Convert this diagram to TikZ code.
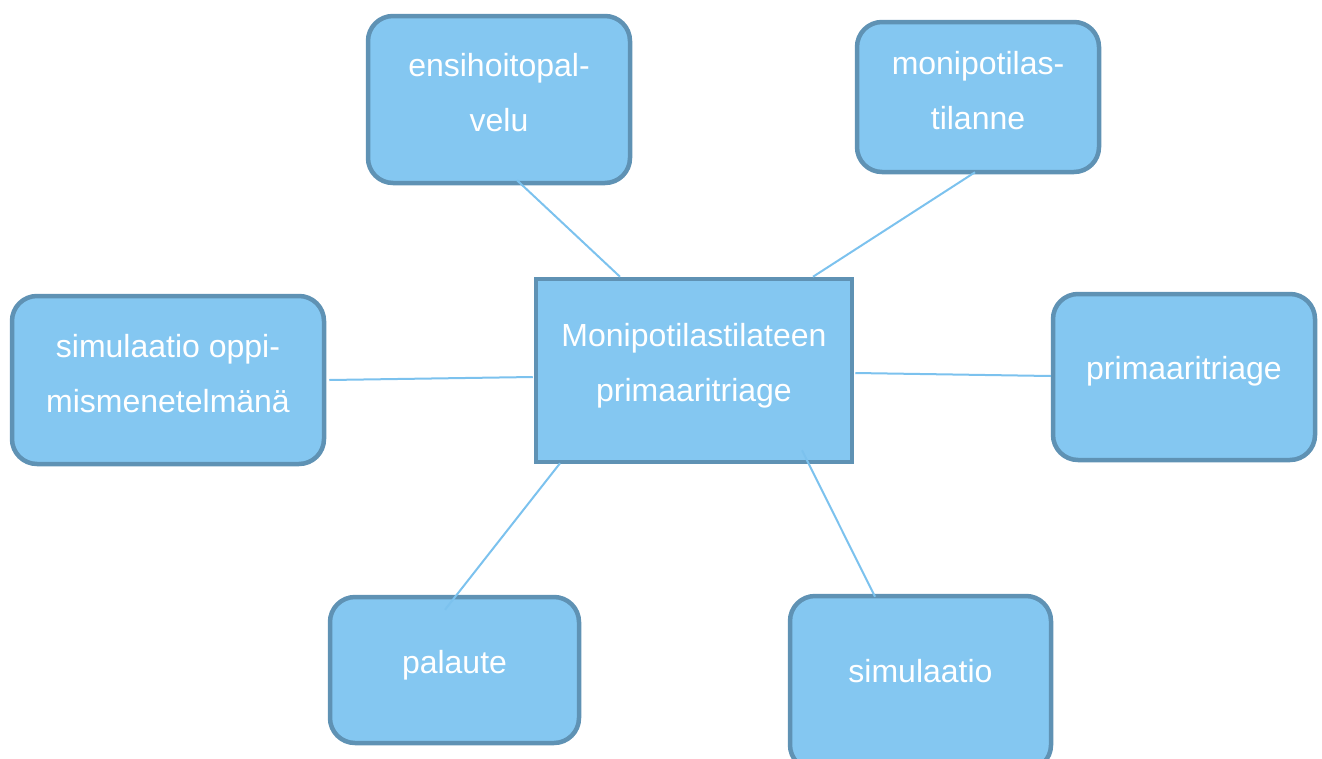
\documentclass[tikz,border=0pt]{standalone}
\usepackage{fontspec}
\setmainfont{Liberation Sans}
\usetikzlibrary{calc}
\definecolor{boxfill}{HTML}{84C7F1}
\definecolor{boxline}{HTML}{5F92B4}
\definecolor{linkcol}{HTML}{7CC2EE}
\tikzset{
  rbox/.style={draw=boxline, fill=boxfill, line width=4.5pt, rounded corners=25pt, inner sep=0pt},
  cbox/.style={draw=boxline, fill=boxfill, line width=4.5pt, inner sep=0pt},
  txt/.style={text=white, align=center, font=\fontsize{32}{55}\selectfont, inner sep=0pt},
  link/.style={draw=linkcol, line width=2pt}
}
\begin{document}
\begin{tikzpicture}[x=1pt,y=-1pt]
\useasboundingbox (0,0) rectangle (1322,758);
\clip (0,0) rectangle (1322,758);
\node[cbox, minimum width=316pt, minimum height=183pt, label={[txt,yshift=5pt]center:Monipotilastilateen\\primaaritriage}] (c) at (694,370.5) {};
\node[rbox, minimum width=262pt, minimum height=167pt, label={[txt,yshift=7pt]center:ensihoitopal-\\velu}] (ensi) at (499,99.5) {};
\node[rbox, minimum width=242pt, minimum height=150pt, label={[txt,yshift=6pt]center:monipotilas-\\tilanne}] (moni) at (978,97) {};
\node[rbox, minimum width=312pt, minimum height=168pt, label={[txt,yshift=6pt]center:simulaatio oppi-\\mismenetelmänä}] (left) at (168,380) {};
\node[rbox, minimum width=262pt, minimum height=166pt, label={[txt,yshift=6pt]center:primaaritriage}] (right) at (1184,377) {};
\node[rbox, minimum width=249pt, minimum height=146pt, label={[txt,yshift=5pt]center:palaute}] (pal) at (454.5,670) {};
\node[rbox, minimum width=261pt, minimum height=174pt, label={[txt,yshift=12pt]center:simulaatio}] (sim) at (920.5,683) {};
% connectors
\draw[link] ($(ensi.south)+(18,-5)$) -- ($(c.north)+(-74,0)$);
\draw[link] ($(moni.south)+(-3,-2)$) -- ($(c.north)+(119,0)$);
\draw[link] ($(left.east)+(3,0)$) -- ($(c.west)+(-1,6.5)$);
\draw[link] ($(c.east)+(1,2.5)$) -- ($(right.west)+(0,-1)$);
\draw[link] ($(c.south)+(-134,-1)$) -- ($(pal.north)+(-9.5,15)$);
\draw[link] ($(c.south)+(108,-14)$) -- ($(sim.north)+(-45.5,3)$);
\end{tikzpicture}
\end{document}
